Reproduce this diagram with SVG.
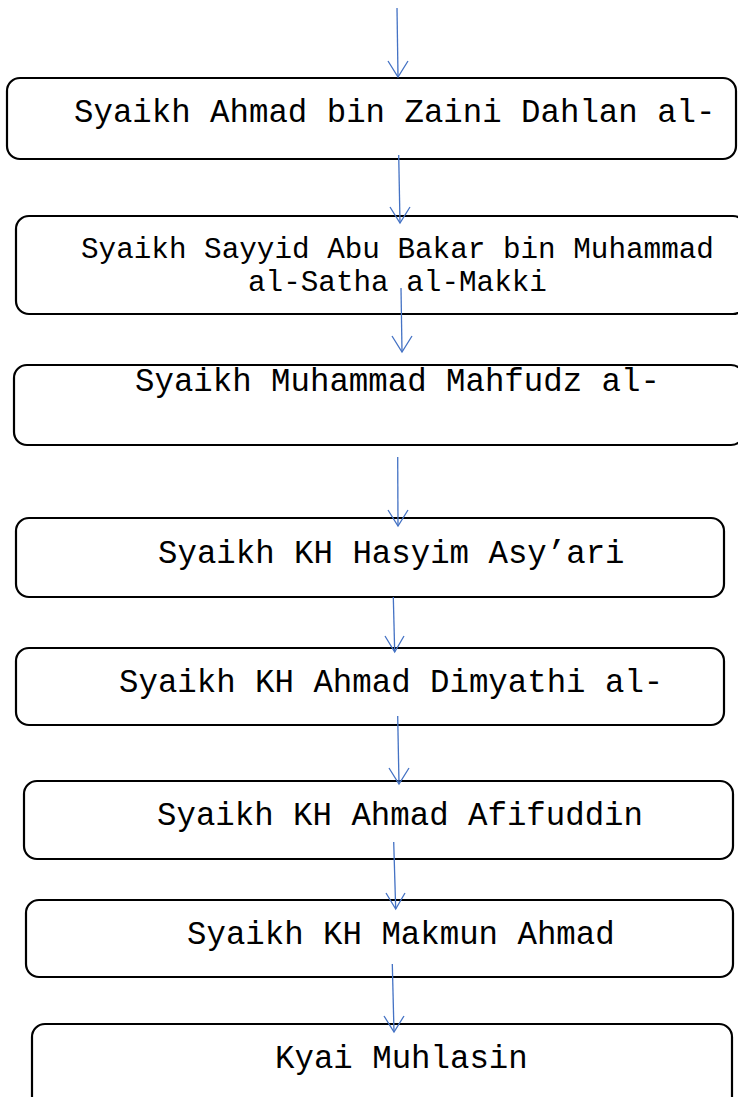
<svg xmlns="http://www.w3.org/2000/svg" width="738" height="1097" viewBox="0 0 738 1097">
  <style>
    .box { fill: #ffffff; stroke: #000000; stroke-width: 2.2; }
    .lbl { font-family: "Liberation Mono", "Courier New", monospace; fill: #000000; }
    .big { font-size: 32.4px; }
    .mid { font-size: 29.3px; }
    .conn line, .conn polyline { stroke: #4472C4; stroke-width: 1.3; fill: none; }
  </style>
  <rect width="738" height="1097" fill="#ffffff"/>

  <g id="node-dahlan">
    <rect class="box" x="7" y="78" width="729" height="81" rx="13"/>
    <text class="lbl big" x="74" y="122">Syaikh Ahmad bin Zaini Dahlan al-</text>
  </g>
  <g id="node-satha">
    <rect class="box" x="16" y="216" width="730" height="98" rx="13"/>
    <text class="lbl mid" x="81" y="258">Syaikh Sayyid Abu Bakar bin Muhammad</text>
    <text class="lbl mid" x="248" y="291">al-Satha al-Makki</text>
  </g>
  <g id="node-mahfudz">
    <rect class="box" x="14" y="365" width="730" height="80" rx="13"/>
    <text class="lbl big" x="135" y="391">Syaikh Muhammad Mahfudz al-</text>
  </g>
  <g id="node-hasyim">
    <rect class="box" x="16" y="518" width="708" height="79" rx="13"/>
    <text class="lbl big" x="158" y="563">Syaikh KH Hasyim Asy’ari</text>
  </g>
  <g id="node-dimyathi">
    <rect class="box" x="16" y="648" width="708" height="77" rx="13"/>
    <text class="lbl big" x="119" y="692">Syaikh KH Ahmad Dimyathi al-</text>
  </g>
  <g id="node-afifuddin">
    <rect class="box" x="24" y="781" width="709" height="78" rx="13"/>
    <text class="lbl big" x="157" y="825">Syaikh KH Ahmad Afifuddin</text>
  </g>
  <g id="node-makmun">
    <rect class="box" x="26" y="900" width="707" height="77" rx="13"/>
    <text class="lbl big" x="187" y="944">Syaikh KH Makmun Ahmad</text>
  </g>
  <g id="node-muhlasin">
    <rect class="box" x="32" y="1024" width="700" height="90" rx="13"/>
    <text class="lbl big" x="275" y="1068">Kyai Muhlasin</text>
  </g>

  <g id="connectors" class="conn">
    <line x1="397" y1="8" x2="398" y2="77"/>
    <polyline points="388,61 398,77 408,61"/>
    <line x1="398.7" y1="155" x2="400" y2="223"/>
    <polyline points="390,207 400,223 410,207"/>
    <line x1="401" y1="288" x2="402" y2="352"/>
    <polyline points="392,336 402,352 412,336"/>
    <line x1="397.7" y1="457" x2="398" y2="526"/>
    <polyline points="388,510 398,526 408,510"/>
    <line x1="393.3" y1="597" x2="394.7" y2="652"/>
    <polyline points="385,636 394.7,652 404,636"/>
    <line x1="397.7" y1="716" x2="399" y2="784"/>
    <polyline points="389,768 399,784 409,768"/>
    <line x1="393.7" y1="842" x2="395.7" y2="909"/>
    <polyline points="386,893 395.7,909 405,893"/>
    <line x1="392.3" y1="964" x2="394" y2="1032"/>
    <polyline points="384,1016 394,1032 404,1016"/>
  </g>
</svg>
